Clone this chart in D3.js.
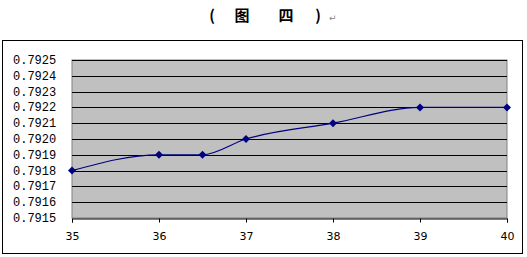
<!DOCTYPE html>
<html><head><meta charset="utf-8">
<script src="https://cdn.jsdelivr.net/npm/d3@7"></script>
<style>body{margin:0;background:#fff}svg{display:block}</style>
</head><body>
<svg id="c" width="527" height="257"></svg>
<script>
const xValues = [35, 36, 36.5, 37, 38, 39, 40];
const yValues = [0.7918, 0.7919, 0.7919, 0.7920, 0.7921, 0.7922, 0.7922];
const xTicks = [35, 36, 37, 38, 39, 40];
const yTicks = [0.7915, 0.7916, 0.7917, 0.7918, 0.7919, 0.7920, 0.7921, 0.7922, 0.7923, 0.7924, 0.7925];
const titleParts = ["(", "图", "四", ")"];

const svg = d3.select("#c");
const L = 72, R = 507, T = 60, B = 218;
const x = d3.scaleLinear().domain([35, 40]).range([L, R]);
const y = d3.scaleLinear().domain([0.7915, 0.7925]).range([B, T]);

// title
const tx = [212, 242, 286, 318];
svg.selectAll("text.t").data(titleParts).join("text")
  .attr("x", (d,i)=>tx[i]).attr("y", 21).attr("text-anchor","middle")
  .attr("font-family","'Noto Sans CJK SC'").attr("font-weight","bold").attr("font-size",15)
  .text(d=>d);
svg.append("text").attr("x",329).attr("y",21).attr("font-size",9).attr("fill","#888")
  .attr("font-family","'DejaVu Sans'").text("↵");

// outer box
svg.append("rect").attr("x",2.5).attr("y",40.5).attr("width",520).attr("height",213)
  .attr("fill","#fff").attr("stroke","#000");

// plot area
svg.append("rect").attr("x",L).attr("y",T).attr("width",R-L).attr("height",B-T)
  .attr("fill","#c0c0c0").attr("stroke","#808080");

// gridlines
svg.append("g").selectAll("line").data(yTicks.slice(1)).join("line")
  .attr("x1",L).attr("x2",R).attr("y1",d=>Math.round(y(d))+0.5).attr("y2",d=>Math.round(y(d))+0.5)
  .attr("stroke","#000");

// x axis
const xa = svg.append("g").attr("transform",`translate(0,${B+0.5})`)
  .call(d3.axisBottom(x).tickValues(xTicks).tickSize(4).tickPadding(10).tickFormat(d3.format("d")));
xa.select(".domain").attr("stroke","#000");
xa.selectAll("text").attr("font-family","'DejaVu Sans'").attr("font-size",11).attr("fill","#000");

// y axis labels
svg.append("g").selectAll("text").data(yTicks).join("text")
  .attr("x",13).attr("y",d=>y(d)+4).attr("font-family","'Liberation Mono'").attr("font-size",12)
  .text(d=>d.toFixed(4));

// line
const line = d3.line().x(d=>x(d[0])).y(d=>y(d[1])).curve(d3.curveMonotoneX);
const pts = xValues.map((v,i)=>[v,yValues[i]]);
svg.append("path").datum(pts).attr("d",line).attr("fill","none").attr("stroke","#000080").attr("stroke-width",1.2);
svg.append("g").selectAll("path").data(pts).join("path")
  .attr("transform",d=>`translate(${x(d[0])},${y(d[1])})`)
  .attr("d","M0,-4L4,0L0,4L-4,0Z").attr("fill","#000080");
</script>
</body></html>
